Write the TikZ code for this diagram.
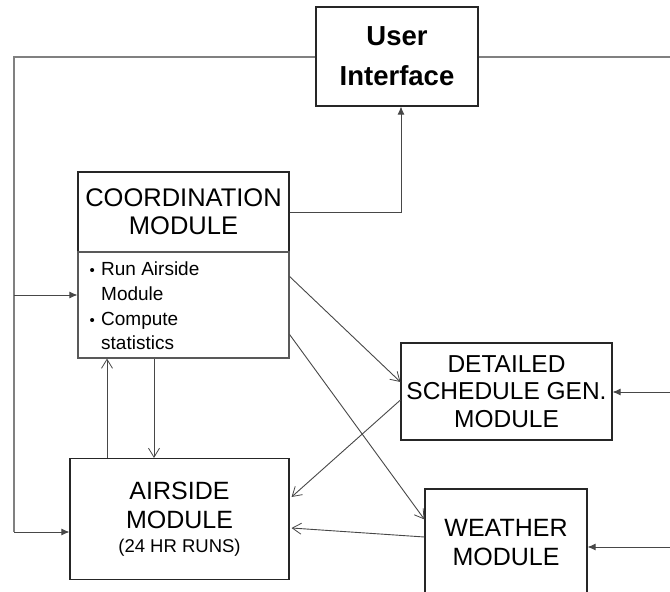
\documentclass[tikz,border=0pt]{standalone}
\usepackage{fontspec}
\setmainfont{Liberation Sans}
\usetikzlibrary{arrows.meta}
\begin{document}
\begin{tikzpicture}[x=1pt,y=-1pt,
  box/.style={draw=black!85,line width=1.1pt,inner sep=0pt,align=center,fill=white},
  conn/.style={draw=black!72,line width=0.9pt},
  loopline/.style={draw=black!50,line width=1.2pt},
  fa/.style={-{Latex[length=8pt,width=7pt]}},
  oa/.style={-{Straight Barb[length=9pt,width=11pt,line width=0.8pt]}},
  bigtxt/.style={font=\fontsize{25.5}{28}\selectfont},
  bullettxt/.style={font=\fontsize{19}{22}\selectfont,anchor=base west,inner sep=0pt}
]
\useasboundingbox (0,0) rectangle (670,592);

% boxes
\node[box,minimum width=162pt,minimum height=99pt,font=\bfseries\fontsize{27.5}{40}\selectfont] (ui) at (397,56.5) {User\\Interface};
\node[box,minimum width=211pt,minimum height=80pt,bigtxt] (coord) at (183.5,212) {COORDINATION\\MODULE};
\node[box,draw=black!65,minimum width=211pt,minimum height=106pt] (tasks) at (183.5,305) {};
\node[box,minimum width=219pt,minimum height=121pt,font=\fontsize{25}{29}\selectfont] (air) at (179.5,519) {AIRSIDE\\MODULE\\[-5pt]{\fontsize{18.5}{20}\selectfont(24 HR RUNS)}};
\node[box,minimum width=211pt,minimum height=97pt,font=\fontsize{24.5}{27.5}\selectfont] (det) at (506.5,391.5) {DETAILED\\SCHEDULE GEN.\\MODULE};
\node[box,minimum width=162pt,minimum height=107pt,font=\fontsize{25}{29}\selectfont] (wea) at (506,542.5) {WEATHER\\MODULE};

% bullet list
\node[bullettxt] (b1) at (83,275.5) {\makebox[18pt][c]{\fontsize{15}{15}\selectfont\textbullet}Run Airside};
\node[bullettxt] (b2) at (83,300) {\makebox[18pt]{}Module};
\node[bullettxt] (b3) at (83,325.5) {\makebox[18pt][c]{\fontsize{15}{15}\selectfont\textbullet}Compute};
\node[bullettxt] (b4) at (83,349) {\makebox[18pt]{}statistics};

% outer loop lines
\coordinate (tl) at (14,57);
\coordinate (lb) at (14,532);
\coordinate (lj) at (14,295);
\coordinate (tr) at (671,57);
\draw[loopline] (ui.west |- tl) -- (tl) -- (lb);
\draw[loopline] (ui.east |- tr) -- (tr);
\draw[conn,fa] (lj) -- (tasks.west |- lj);
\draw[conn,fa] (lb) -- (air.west |- lb);

% right side inputs
\coordinate (r1) at (671,392);
\coordinate (r2) at (671,547);
\draw[conn,fa] (r1) -- (det.east |- r1);
\draw[conn,fa] (r2) -- (wea.east |- r2);

% coordination to user interface
\coordinate (cu) at (401,212);
\draw[conn,fa] (coord.east) -- (cu) -- (cu |- ui.south);

% tasks <-> airside
\coordinate (ux) at (107,400);
\coordinate (dx) at (154,400);
\draw[conn,oa] (air.north -| ux) -- (tasks.south -| ux);
\draw[conn,oa] (tasks.south -| dx) -- (air.north -| dx);

% diagonal connectors
\draw[conn,oa] ([yshift=-25pt]tasks.north east) -- ([yshift=9.5pt]det.west);
\draw[conn,oa] ([yshift=-83pt]tasks.north east) -- ([yshift=-31pt]wea.north west);
\draw[conn,oa] ([yshift=-8.5pt]det.west) -- ([yshift=22pt,xshift=2pt]air.east);
\draw[conn,oa] ([yshift=5.5pt]wea.west) -- ([yshift=-9pt,xshift=2pt]air.east);
\end{tikzpicture}
\end{document}
